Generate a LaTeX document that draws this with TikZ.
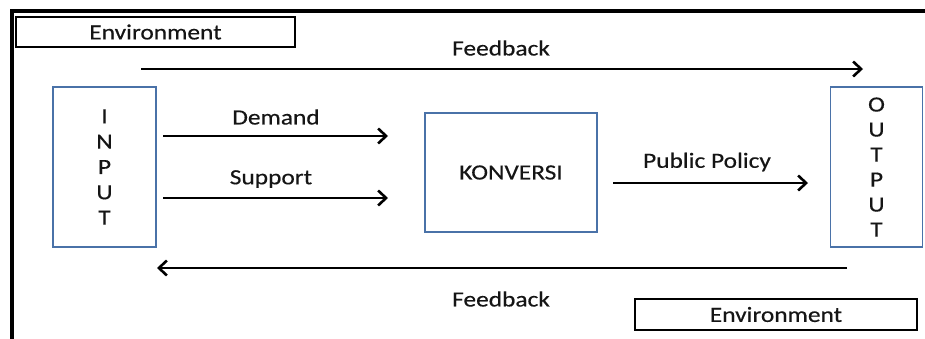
\documentclass[tikz,border=0pt]{standalone}
\usepackage{fontspec}
\setmainfont[FakeStretch=1.17,FakeBold=0.4]{Carlito}
\usetikzlibrary{arrows.meta}
\definecolor{boxblue}{HTML}{4A72A8}
\definecolor{ink}{HTML}{151515}
\tikzset{
  sysbox/.style={draw=boxblue, line width=1.8pt, inner sep=0pt},
  envbox/.style={draw=black, line width=1.8pt, inner sep=0pt},
  flow/.style={line width=2.8pt, -{Straight Barb[length=8pt,width=15pt,line width=2.6pt]}},
  lbl/.style={inner sep=0pt, text=ink, font=\fontsize{21.7}{26}\selectfont}
}
\begin{document}
\begin{tikzpicture}[x=1pt,y=-1pt]
  \useasboundingbox (0,0) rectangle (925,338);
  % outer frame (top and left edges)
  \draw[line width=4.5pt] (12,340) -- (12,11) -- (926,11);

  % environment labels
  \node[envbox, minimum width=279pt, minimum height=30pt] (envtop) at (155.5,32) {};
  \node[lbl] at (envtop.center) {Environment};
  \node[envbox, minimum width=282pt, minimum height=31pt] (envbot) at (776,314.5) {};
  \node[lbl] at (envbot.center) {Environment};

  % system boxes
  \node[sysbox, minimum width=103pt, minimum height=160pt] (input) at (104.5,167) {};
  \node[lbl, align=center, font=\fontsize{21.7}{25.3}\selectfont] at (input.center) {I\\N\\P\\U\\T};
  \node[sysbox, minimum width=172pt, minimum height=119pt] (konv) at (511,172.5) {};
  \node[lbl] at (konv.center) {KONVERSI};
  \node[sysbox, minimum width=92pt, minimum height=160pt] (output) at (876.5,167) {};
  \node[lbl, align=center, font=\fontsize{21.7}{25}\selectfont] at (output.center) {O\\U\\T\\P\\U\\T};

  % connector end points
  \coordinate (fbTopS) at (141,69);
  \coordinate (fbTopE) at (863,69);
  \coordinate (fbBotS) at (847,268);
  \coordinate (fbBotE) at (157,268);
  \coordinate (demS) at (163,136);
  \coordinate (demE) at (388,136);
  \coordinate (supS) at (163,198);
  \coordinate (supE) at (388,198);
  \coordinate (polS) at (613,183);
  \coordinate (polE) at (808,183);

  % flows
  \draw[flow] (fbTopS) -- (fbTopE);
  \draw[flow] (fbBotS) -- (fbBotE);
  \draw[flow] (demS) -- (demE);
  \draw[flow] (supS) -- (supE);
  \draw[flow] (polS) -- (polE);

  % flow labels
  \node[lbl] at (501,48) {Feedback};
  \node[lbl] at (501,299) {Feedback};
  \node[lbl] at (276,117) {Demand};
  \node[lbl] at (271,179) {Support};
  \node[lbl] at (707,162) {Public Policy};
\end{tikzpicture}
\end{document}
